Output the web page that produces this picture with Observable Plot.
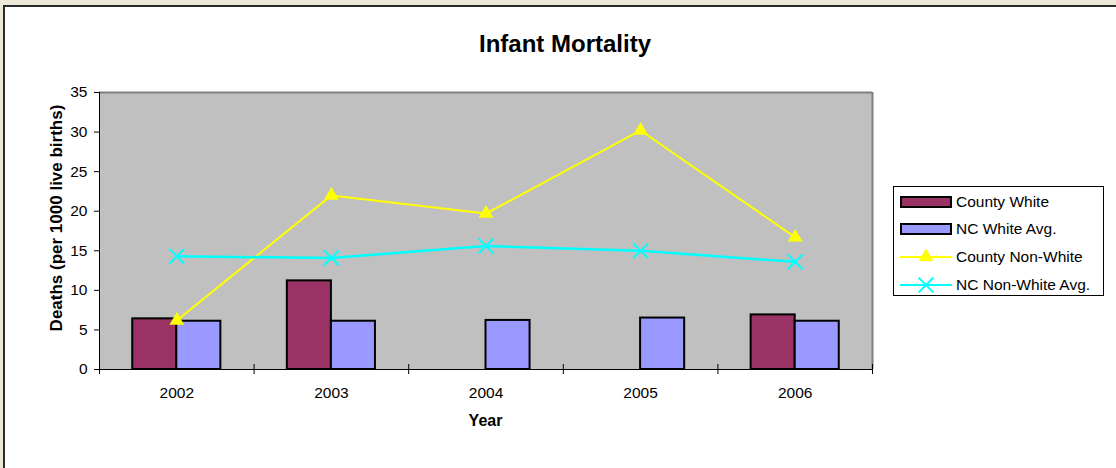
<!DOCTYPE html>
<html>
<head>
<meta charset="utf-8">
<script src="https://cdn.jsdelivr.net/npm/d3@7"></script>
<script src="https://cdn.jsdelivr.net/npm/@observablehq/plot@0.6"></script>
<style>
  html, body { margin: 0; padding: 0; width: 100%; height: 100%; overflow: hidden; background: #ECE9D8; }
  body { position: relative; font-family: "Liberation Sans", Arial, sans-serif; color: #000; }
  #frame { position: absolute; left: 3px; top: 5px; right: -20px; bottom: -20px; background: #fff; border-left: 2px solid #2a2a2a; border-top: 2px solid #2a2a2a; }
  #chart { position: absolute; left: 0; top: 0; width: 1116px; height: 468px; overflow: hidden; }
  .lbl { position: absolute; line-height: 1; white-space: nowrap; }
  #title { left: 565px; top: 32px; font-size: 24px; font-weight: bold; transform: translateX(-50%); }
  #xlabel { left: 485.5px; top: 413px; font-size: 16px; font-weight: bold; transform: translateX(-50%); }
  #ylabel { left: 56px; top: 218px; font-size: 17px; font-weight: bold; transform: translate(-50%, -50%) rotate(-90deg); }
  #legend { position: absolute; left: 893px; top: 186px; width: 211px; height: 110px; border: 1px solid #000; background: #fff; box-sizing: border-box; }
  .row { position: absolute; left: 6px; height: 20px; display: flex; align-items: center; }
  .row svg { display: block; margin-right: 4px; }
  .row span { font-size: 15.5px; line-height: 1; }
</style>
</head>
<body>
<div id="frame"></div>
<div id="chart"></div>
<div id="title" class="lbl">Infant Mortality</div>
<div id="xlabel" class="lbl">Year</div>
<div id="ylabel" class="lbl">Deaths (per 1000 live births)</div>
<div id="legend"></div>
<script>
// ---- data ----
const years = [2002, 2003, 2004, 2005, 2006];
const countyWhite = [6.4, 11.2, null, null, 6.9];
const ncWhiteAvg = [6.1, 6.1, 6.2, 6.5, 6.1];
const countyNonWhite = [6.2, 22.0, 19.7, 30.2, 16.7];
const ncNonWhiteAvg = [14.3, 14.1, 15.6, 15.0, 13.6];
const yTicks = [0, 5, 10, 15, 20, 25, 30, 35];
const seriesNames = ["County White", "NC White Avg.", "County Non-White", "NC Non-White Avg."];

// ---- styles ----
const colors = {cw: "#993366", ncw: "#9999FF", cnw: "#FFFF00", ncnw: "#00FFFF"};
const barW = 0.285; // bar width in year units

const toRows = (vals) => years.map((year, i) => ({year, value: vals[i]})).filter(d => d.value != null);
const cw = toRows(countyWhite), ncw = toRows(ncWhiteAvg), cnw = toRows(countyNonWhite), ncnw = toRows(ncNonWhiteAvg);
const boundaries = [years[0] - 0.5, ...years.map(y => y + 0.5)];

const plot = Plot.plot({
  width: 1116, height: 468,
  marginLeft: 99, marginRight: 244, marginTop: 92, marginBottom: 99,
  style: {background: "transparent", fontFamily: "'Liberation Sans', Arial, sans-serif", fontSize: "15.5px", color: "#000"},
  x: {type: "linear", domain: [boundaries[0], boundaries[boundaries.length - 1]]},
  y: {domain: [0, 35]},
  marks: [
    Plot.frame({fill: "#C0C0C0", stroke: null}),
    Plot.ruleY([35], {stroke: "#808080", strokeWidth: 2}),
    Plot.ruleX([boundaries[boundaries.length - 1]], {stroke: "#808080", strokeWidth: 2}),
    Plot.rectY(cw, {x1: d => d.year - barW, x2: d => d.year, y1: 0, y2: "value", fill: colors.cw, stroke: "#000", strokeWidth: 2}),
    Plot.rectY(ncw, {x1: d => d.year, x2: d => d.year + barW, y1: 0, y2: "value", fill: colors.ncw, stroke: "#000", strokeWidth: 2}),
    Plot.line(cnw, {x: "year", y: "value", stroke: colors.cnw, strokeWidth: 2}),
    Plot.dot(cnw, {x: "year", y: "value", symbol: "triangle", r: 5.5, fill: colors.cnw, stroke: null}),
    Plot.line(ncnw, {x: "year", y: "value", stroke: colors.ncnw, strokeWidth: 2.5}),
    Plot.dot(ncnw, {x: "year", y: "value", symbol: "times", r: 6.8, stroke: colors.ncnw, strokeWidth: 2}),
    Plot.ruleX([boundaries[0]], {stroke: "#000", strokeWidth: 1}),
    Plot.ruleY([0], {stroke: "#000", strokeWidth: 1}),
    Plot.axisY({ticks: yTicks, tickSize: 5, tickPadding: 7, label: null, tickFormat: d => String(d)}),
    Plot.axisX({ticks: boundaries, tickSize: 5, tickFormat: () => "", label: null}),
    Plot.axisX({ticks: boundaries.slice(1), tickSize: -5, tickFormat: () => "", label: null}),
    Plot.axisX({ticks: years, tickSize: 0, tickPadding: 17, tickFormat: d => String(d), label: null})
  ]
});
document.getElementById("chart").appendChild(plot);

// ---- legend ----
const legend = document.getElementById("legend");
const rowTops = [5, 32, 60, 88];
const swatches = [
  `<svg width="52" height="12"><rect x="1" y="1" width="50" height="10" fill="${colors.cw}" stroke="#000" stroke-width="2"/></svg>`,
  `<svg width="52" height="12"><rect x="1" y="1" width="50" height="10" fill="${colors.ncw}" stroke="#000" stroke-width="2"/></svg>`,
  `<svg width="52" height="16"><line x1="0" y1="8" x2="52" y2="8" stroke="${colors.cnw}" stroke-width="2"/><path d="${d3.symbol(d3.symbolTriangle, 95)()}" transform="translate(26,8)" fill="${colors.cnw}"/></svg>`,
  `<svg width="52" height="16"><line x1="0" y1="8" x2="52" y2="8" stroke="${colors.ncnw}" stroke-width="2"/><path d="${d3.symbol(d3.symbolTimes, 145)()}" transform="translate(26,8)" fill="none" stroke="${colors.ncnw}" stroke-width="2"/></svg>`
];
seriesNames.forEach((name, i) => {
  const row = document.createElement("div");
  row.className = "row";
  row.style.top = rowTops[i] + "px";
  row.innerHTML = swatches[i] + `<span>${name}</span>`;
  legend.appendChild(row);
});
</script>
</body>
</html>
